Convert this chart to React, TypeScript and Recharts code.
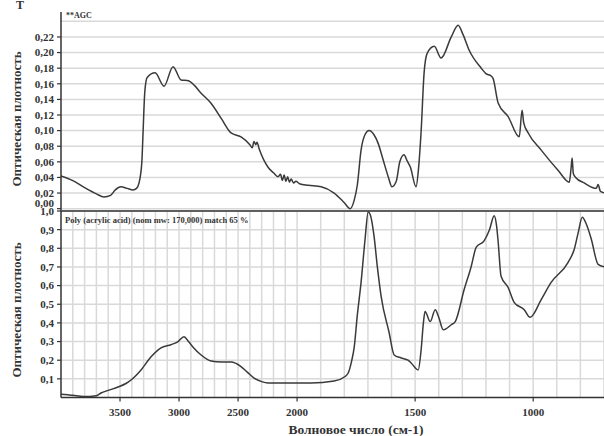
import React from 'react';
import {
  LineChart,
  Line,
  XAxis,
  YAxis,
  ReferenceLine,
  CartesianGrid,
} from 'recharts';

// wavenumbers (cm-1) and absorbance
const agcWave = [
  4000, 3900, 3800, 3700, 3636, 3580, 3540, 3492, 3440, 3390, 3360, 3339, 3315, 3305, 3290,
  3270, 3203, 3127, 3051, 2983, 2920, 2870, 2813, 2729, 2640, 2559, 2475, 2400, 2380, 2365,
  2350, 2340, 2320, 2246, 2200, 2161, 2140, 2125, 2110, 2095, 2080, 2065, 2050, 2030, 2010,
  1990, 1953, 1898, 1843, 1801, 1775, 1758, 1745, 1729, 1712, 1695, 1675, 1657, 1635, 1614,
  1598, 1580, 1565, 1547, 1535, 1520, 1496, 1486, 1475, 1462, 1449, 1419, 1390, 1347, 1318,
  1297, 1271, 1220, 1200, 1178, 1170, 1148, 1106, 1059, 1047, 1040, 1021, 966, 894, 847,
  840, 835, 830, 820, 784, 733, 725, 715, 695,
];
const agcAbs = [
  0.042, 0.036, 0.027, 0.019, 0.015, 0.017, 0.024, 0.028, 0.026, 0.024, 0.026, 0.033, 0.06, 0.097, 0.15,
  0.168, 0.174, 0.157, 0.182, 0.165, 0.164, 0.158, 0.148, 0.135, 0.115, 0.097, 0.092, 0.082, 0.078, 0.086,
  0.082, 0.085, 0.076, 0.053, 0.046, 0.041, 0.044, 0.036, 0.043, 0.035, 0.041, 0.034, 0.038, 0.033, 0.035,
  0.032, 0.03, 0.028, 0.02, 0.008, 0.0, 0.011, 0.03, 0.075, 0.095, 0.1, 0.095, 0.084, 0.062, 0.041,
  0.028, 0.035, 0.06, 0.069, 0.062, 0.053, 0.028, 0.05, 0.097, 0.174, 0.199, 0.208, 0.193, 0.22, 0.235,
  0.223, 0.203, 0.18, 0.173, 0.17, 0.167, 0.135, 0.118, 0.092, 0.126, 0.11, 0.097, 0.075, 0.049, 0.034,
  0.05, 0.065, 0.045, 0.04, 0.033, 0.026, 0.031, 0.022, 0.02,
];

const paaWave = [
  4000, 3900, 3810, 3700, 3661, 3600, 3517, 3450, 3407, 3322, 3237, 3153, 3068, 3008, 2958,
  2920, 2881, 2813, 2729, 2640, 2559, 2475, 2420, 2364, 2300, 2246, 2077, 1941, 1843, 1800,
  1784, 1770, 1758, 1745, 1729, 1712, 1699, 1690, 1674, 1660, 1644, 1610, 1589, 1559, 1530,
  1517, 1487, 1475, 1465, 1458, 1436, 1415, 1400, 1381, 1347, 1330, 1292, 1263, 1241, 1208,
  1185, 1165, 1155, 1148, 1136, 1106, 1080, 1038, 1013, 966, 924, 852, 826, 810, 792,
  775, 754, 725, 695,
];
const paaAbs = [
  0.018, 0.012, 0.005, 0.01, 0.024, 0.038, 0.056, 0.075, 0.094, 0.148, 0.218, 0.266, 0.283, 0.3, 0.326,
  0.3, 0.27, 0.228, 0.196, 0.19, 0.19, 0.166, 0.135, 0.104, 0.085, 0.078, 0.078, 0.078, 0.088, 0.11,
  0.13, 0.19, 0.27, 0.44, 0.617, 0.85, 0.995, 0.98, 0.865, 0.7, 0.542, 0.347, 0.228, 0.212, 0.2,
  0.185, 0.148, 0.25, 0.4, 0.461, 0.407, 0.471, 0.43, 0.363, 0.39, 0.407, 0.58, 0.7, 0.806, 0.84,
  0.9, 0.975, 0.92, 0.83, 0.65, 0.59, 0.509, 0.471, 0.43, 0.525, 0.617, 0.725, 0.795, 0.88, 0.967,
  0.93, 0.85, 0.714, 0.7,
];

// labelled ticks
const xLabels = [3500, 3000, 2500, 2000, 1500, 1000];
const topLabels = [0, 0.02, 0.04, 0.06, 0.08, 0.1, 0.12, 0.14, 0.16, 0.18, 0.2, 0.22];
// grid ticks (the axes carry these, labels only on the ones above)
const topGrid = [0, 0.02, 0.04, 0.06, 0.08, 0.1, 0.12, 0.14, 0.16, 0.18, 0.2, 0.22, 0.24];
const bottomGrid = [0.1, 0.2, 0.3, 0.4, 0.5, 0.6, 0.7, 0.8, 0.9, 1.0];
const gridWaves = [
  3900, 3800, 3700, 3600, 3500, 3400, 3300, 3200, 3100, 3000, 2900, 2800, 2700, 2600, 2500,
  2400, 2300, 2200, 2100, 2000, 1900, 1800, 1700, 1600, 1500, 1400, 1300, 1200, 1100, 1000,
  900, 800, 700,
];

// the x scale is compressed by half above 2000 cm-1
const toT = (w: number) => (w > 2000 ? (2000 - w) / 2 : 2000 - w);
const fromT = (t: number) => Math.round(t < 0 ? 2000 - t * 2 : 2000 - t);

const topData = agcWave.map((w, i) => ({ t: toT(w), v: agcAbs[i] }));
const bottomData = paaWave.map((w, i) => ({ t: toT(w), v: paaAbs[i] }));

const FONT = '"Liberation Serif", "Times New Roman", serif';
const INK = '#333';
const GRID = '#d9d9d9';
const X_DOMAIN = [-1000, 1300];
const TOP_DOMAIN = [-0.003, 0.252];
const BOTTOM_DOMAIN = [0, 1];

const comma = (v: number, d: number) => v.toFixed(d).replace('.', ',');
const hasLabel = (list: number[], v: number) => list.some((l) => Math.abs(l - v) < 1e-9);

// y tick: mark + label; x/y come in at the label position (tickSize 4 + tickMargin 3)
const TopTick = ({ x, y, payload }: any) => {
  if (!hasLabel(topLabels, payload.value)) return <g />;
  return (
    <g>
      <line x1={x + 3} x2={x + 7} y1={y} y2={y} stroke={INK} strokeWidth={1.2} />
      <text
        x={x}
        y={payload.value === 0 ? y - 6 : y}
        dy="0.35em"
        textAnchor="end"
        fontFamily={FONT}
        fontWeight="bold"
        fontSize={11}
        fill={INK}
      >
        {comma(payload.value, 2)}
      </text>
    </g>
  );
};

const BottomTick = ({ x, y, payload }: any) => (
  <g>
    <line x1={x + 3} x2={x + 7} y1={y} y2={y} stroke={INK} strokeWidth={1.2} />
    <text x={x} y={y} dy="0.35em" textAnchor="end" fontFamily={FONT} fontWeight="bold" fontSize={11} fill={INK}>
      {comma(payload.value, 1)}
    </text>
  </g>
);

// x tick: x/y come in at the label position (tickSize 4 + tickMargin 7 below the axis)
const WaveTick = ({ x, y, payload }: any) => {
  const w = fromT(payload.value);
  if (!xLabels.includes(w)) return <g />;
  return (
    <g>
      <line x1={x} x2={x} y1={y - 11} y2={y - 7} stroke={INK} strokeWidth={1.2} />
      <text x={x} y={y} dy="0.71em" textAnchor="middle" fontFamily={FONT} fontWeight="bold" fontSize={11} fill={INK}>
        {w}
      </text>
    </g>
  );
};

export default function App() {
  return (
    <div style={{ position: 'absolute', left: 0, top: 0, width: 604, height: 436, background: '#fff' }}>
      <div style={{ position: 'absolute', left: 0, top: 0 }}>
        <LineChart width={604} height={211} data={topData} margin={{ top: 12, right: 0, bottom: 0, left: 0 }}>
          <CartesianGrid stroke={GRID} strokeWidth={1.5} syncWithTicks />
          <XAxis
            type="number"
            dataKey="t"
            domain={X_DOMAIN}
            allowDataOverflow
            ticks={gridWaves.map(toT)}
            interval={0}
            height={0}
            tick={false}
            tickLine={false}
            axisLine={false}
          />
          <YAxis
            type="number"
            domain={TOP_DOMAIN}
            allowDataOverflow
            ticks={topGrid}
            interval={0}
            width={61}
            tickSize={4}
            tickMargin={3}
            tickLine={{ stroke: 'transparent' }}
            axisLine={{ stroke: INK, strokeWidth: 1.5 }}
            tick={<TopTick />}
          />
          <Line type="monotone" dataKey="v" stroke="#3a3a3a" strokeWidth={1.5} dot={false} isAnimationActive={false} />
        </LineChart>
      </div>
      <div style={{ position: 'absolute', left: 0, top: 200 }}>
        <LineChart width={604} height={236} data={bottomData} margin={{ top: 11, right: 0, bottom: 0, left: 0 }}>
          <CartesianGrid stroke={GRID} strokeWidth={1.5} syncWithTicks />
          <XAxis
            type="number"
            dataKey="t"
            domain={X_DOMAIN}
            allowDataOverflow
            ticks={gridWaves.map(toT)}
            interval={0}
            height={38.5}
            tickSize={4}
            tickMargin={7}
            tickLine={{ stroke: 'transparent' }}
            axisLine={{ stroke: INK, strokeWidth: 1.5 }}
            tick={<WaveTick />}
          />
          <YAxis
            type="number"
            domain={BOTTOM_DOMAIN}
            allowDataOverflow
            ticks={bottomGrid}
            interval={0}
            width={61}
            tickSize={4}
            tickMargin={3}
            tickLine={{ stroke: 'transparent' }}
            axisLine={{ stroke: INK, strokeWidth: 1.5 }}
            tick={<BottomTick />}
          />
          <ReferenceLine y={1} stroke={INK} strokeWidth={1.5} />
          <Line type="monotone" dataKey="v" stroke="#3a3a3a" strokeWidth={1.5} dot={false} isAnimationActive={false} />
        </LineChart>
      </div>
      <svg
        width={604}
        height={436}
        style={{ position: 'absolute', left: 0, top: 0, pointerEvents: 'none' }}
        fontFamily={FONT}
        fontWeight="bold"
        fill={INK}
      >
        <text x={16} y={9} fontSize={12}>Т</text>
        <text x={66} y={18} fontSize={8}>**AGC</text>
        <text x={65} y={223} fontSize={8.5}>Poly (acrylic acid) (nom mw: 170,000) match 65 %</text>
        <text x={21} y={119} fontSize={13} textAnchor="middle" transform="rotate(-90 21 119)">
          Оптическая плотность
        </text>
        <text x={21} y={310} fontSize={13} textAnchor="middle" transform="rotate(-90 21 310)">
          Оптическая плотность
        </text>
        <text x={356} y={434} fontSize={13.5} textAnchor="middle">
          Волновое число (см-1)
        </text>
      </svg>
    </div>
  );
}
